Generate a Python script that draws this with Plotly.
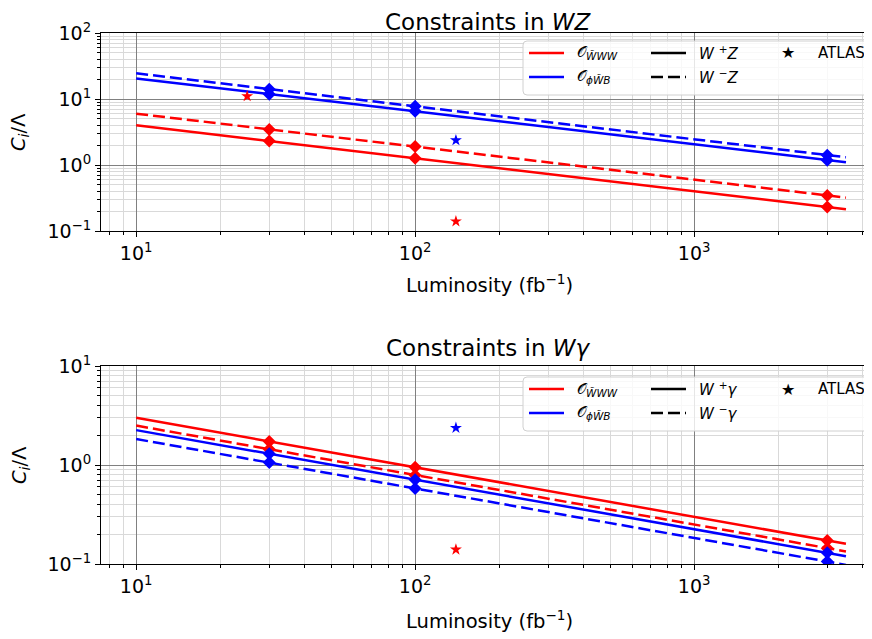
import plotly.graph_objects as go

# ---------------- data ----------------
lumi_line = [10, 30, 100, 3000, 3500]
lumi_pts = [30, 100, 3000]

# WZ constraints (read at 10, 30, 100, 3000, 3500 fb^-1)
wz_www_plus = [4.0, 2.31, 1.27, 0.231, 0.214]
wz_www_minus = [6.0, 3.46, 1.90, 0.346, 0.32]
wz_phiwb_plus = [20.5, 11.8, 6.5, 1.18, 1.10]
wz_phiwb_minus = [24.5, 14.1, 7.75, 1.41, 1.31]

# W gamma constraints
wa_www_plus = [3.0, 1.73, 0.95, 0.173, 0.160]
wa_www_minus = [2.5, 1.44, 0.79, 0.144, 0.134]
wa_phiwb_plus = [2.25, 1.30, 0.71, 0.130, 0.120]
wa_phiwb_minus = [1.83, 1.06, 0.58, 0.106, 0.098]

# ATLAS points
atlas_wz_x = [25, 140, 140]
atlas_wz_y = [11.0, 2.37, 0.14]
atlas_wz_c = ["red", "blue", "red"]
atlas_wa_x = [140, 140]
atlas_wa_y = [2.37, 0.14]
atlas_wa_c = ["blue", "red"]

x_tick_vals = [10, 100, 1000]
x_tick_text = ["10<sup>1</sup>", "10<sup>2</sup>", "10<sup>3</sup>"]
y_top_tick_vals = [0.1, 1, 10, 100]
y_top_tick_text = ["10<sup>−1</sup>", "10<sup>0</sup>", "10<sup>1</sup>", "10<sup>2</sup>"]
y_bot_tick_vals = [0.1, 1, 10]
y_bot_tick_text = ["10<sup>−1</sup>", "10<sup>0</sup>", "10<sup>1</sup>"]

# ---------------- layout geometry ----------------
# page body has an 8px margin, so the figure is drawn 8px smaller / shifted
OFF = 8
W, H = 872 - OFF, 639 - OFF
ML, MR, MT, MB = 101 - OFF, 0, 33 - OFF, 639 - 564
PW = W - ML - MR
PH = H - MT - MB


def px(sx):
    return (sx - OFF - ML) / PW


def py(sy):
    return (H - MB - (sy - OFF)) / PH


FONT = "DejaVu Sans"
RED = "#ff0000"
BLUE = "#0000ff"
TICK_SIZE = 19
LABEL_SIZE = 19.5
TITLE_SIZE = 23
LEG_SIZE = 15

fig = go.Figure()


def add_panel(xa, ya, series, ax_x, ax_y, ax_c):
    for vals, col, dash in series:
        fig.add_trace(go.Scatter(
            x=lumi_line, y=vals, mode="lines", xaxis=xa, yaxis=ya,
            line=dict(color=col, width=2.5, dash=dash), showlegend=False,
            hoverinfo="skip"))
    for vals, col, dash in series:
        fig.add_trace(go.Scatter(
            x=lumi_pts, y=vals[1:4], mode="markers", xaxis=xa, yaxis=ya,
            marker=dict(symbol="diamond", size=10, color=col), showlegend=False))
    fig.add_trace(go.Scatter(
        x=ax_x, y=ax_y, mode="markers", xaxis=xa, yaxis=ya,
        marker=dict(symbol="star", size=9, color=ax_c), showlegend=False))


DASH = "12px,5px"
add_panel("x", "y", [
    (wz_www_plus, RED, "solid"), (wz_www_minus, RED, DASH),
    (wz_phiwb_plus, BLUE, "solid"), (wz_phiwb_minus, BLUE, DASH)],
    atlas_wz_x, atlas_wz_y, atlas_wz_c)
add_panel("x2", "y2", [
    (wa_www_plus, RED, "solid"), (wa_www_minus, RED, DASH),
    (wa_phiwb_plus, BLUE, "solid"), (wa_phiwb_minus, BLUE, DASH)],
    atlas_wa_x, atlas_wa_y, atlas_wa_c)

xr = [0.874, 0.874 + PW / 279.0]
common = dict(type="log",
              showgrid=True, gridcolor="#808080", gridwidth=1,
              ticks="outside", ticklen=5, tickcolor="black",
              showline=True, linecolor="black", linewidth=1,
              tickfont=dict(family=FONT, size=TICK_SIZE, color="black"),
              minor=dict(dtick="D1", showgrid=True, gridcolor="#d9d9d9", gridwidth=1,
                         ticks="outside", ticklen=3, tickcolor="black"),
              zeroline=False, automargin=False)
xcommon = dict(**common, range=xr, tickvals=x_tick_vals, ticktext=x_tick_text, mirror=True)

top_dom = [py(231), 1.0]
bot_dom = [0.0, py(366)]

fig.update_layout(
    width=W, height=H,
    margin=dict(l=ML, r=MR, t=MT, b=MB, autoexpand=False),
    paper_bgcolor="white", plot_bgcolor="white",
    font=dict(family=FONT, color="black"),
    xaxis=dict(**xcommon, domain=[0, 1], anchor="y"),
    yaxis=dict(**common, domain=top_dom, range=[-1, 2], anchor="x", mirror=False,
               tickvals=y_top_tick_vals, ticktext=y_top_tick_text),
    xaxis2=dict(**xcommon, domain=[0, 1], anchor="y2"),
    yaxis2=dict(**common, domain=bot_dom, range=[-1, 1], anchor="x2", mirror=False,
                tickvals=y_bot_tick_vals, ticktext=y_bot_tick_text),
)

ann = []
shapes = []
cx = px(488)
# titles
ann.append(dict(text="Constraints in <i>WZ</i>", x=cx, y=py(OFF), xref="paper", yref="paper",
                showarrow=False, font=dict(size=TITLE_SIZE, family=FONT), xanchor="center", yanchor="top",
                borderpad=0))
ann.append(dict(text="Constraints in <i>Wγ</i>", x=cx, y=py(348), xref="paper", yref="paper",
                showarrow=False, font=dict(size=TITLE_SIZE, family=FONT), xanchor="center", yanchor="middle"))
# x labels
for yy in (284, 620):
    ann.append(dict(text="Luminosity (fb<sup>−1</sup>)", x=px(489), y=py(yy), xref="paper", yref="paper",
                    showarrow=False, font=dict(size=LABEL_SIZE, family=FONT), xanchor="center", yanchor="middle"))
# y labels
for yy in (132, 465):
    ann.append(dict(text="<i>C<sub>i</sub></i>/Λ", x=px(20), y=py(yy), xref="paper", yref="paper",
                    showarrow=False, font=dict(size=LABEL_SIZE, family=FONT), textangle=-90,
                    xanchor="center", yanchor="middle"))


def legend(top, bottom, r1, r2, lab_plus, lab_minus):
    x0, x1 = 523, 878
    rad = 4
    path = (f"M {px(x0 + rad)},{py(top)} L {px(x1)},{py(top)} L {px(x1)},{py(bottom)} "
            f"L {px(x0 + rad)},{py(bottom)} Q {px(x0)},{py(bottom)} {px(x0)},{py(bottom - rad)} "
            f"L {px(x0)},{py(top + rad)} Q {px(x0)},{py(top)} {px(x0 + rad)},{py(top)} Z")
    shapes.append(dict(type="path", path=path, xref="paper", yref="paper",
                       fillcolor="rgba(255,255,255,0.8)", line=dict(color="#d0d0d0", width=1)))
    items = [
        (529, 564, r1, RED, "solid", "𝒪<sub><i>W̃WW</i></sub>", 575),
        (529, 564, r2, BLUE, "solid", "𝒪<sub><i>ϕW̃B</i></sub>", 575),
        (651, 686, r1, "black", "solid", lab_plus, 697),
        (651, 686, r2, "black", DASH, lab_minus, 697),
    ]
    for a, b, yy, col, dash, lab, tx in items:
        shapes.append(dict(type="line", x0=px(a), x1=px(b), y0=py(yy), y1=py(yy),
                           xref="paper", yref="paper", line=dict(color=col, width=2.5, dash=dash)))
        ann.append(dict(text=lab, x=px(tx), y=py(yy), xref="paper", yref="paper", showarrow=False,
                        font=dict(size=LEG_SIZE, family=FONT), xanchor="left", yanchor="middle"))
    ann.append(dict(text="★", x=px(788), y=py(r1), xref="paper", yref="paper", showarrow=False,
                    font=dict(size=16, family=FONT), xanchor="center", yanchor="middle"))
    ann.append(dict(text="ATLAS", x=px(816), y=py(r1), xref="paper", yref="paper", showarrow=False,
                    font=dict(size=LEG_SIZE, family=FONT), xanchor="left", yanchor="middle"))


legend(41, 95, 53, 77, "<i>W</i> <sup>+</sup><i>Z</i>", "<i>W</i> <sup>−</sup><i>Z</i>")
legend(377, 431, 389, 413, "<i>W</i> <sup>+</sup><i>γ</i>", "<i>W</i> <sup>−</sup><i>γ</i>")

fig.update_layout(annotations=ann, shapes=shapes)
fig.write_html("out.html")
